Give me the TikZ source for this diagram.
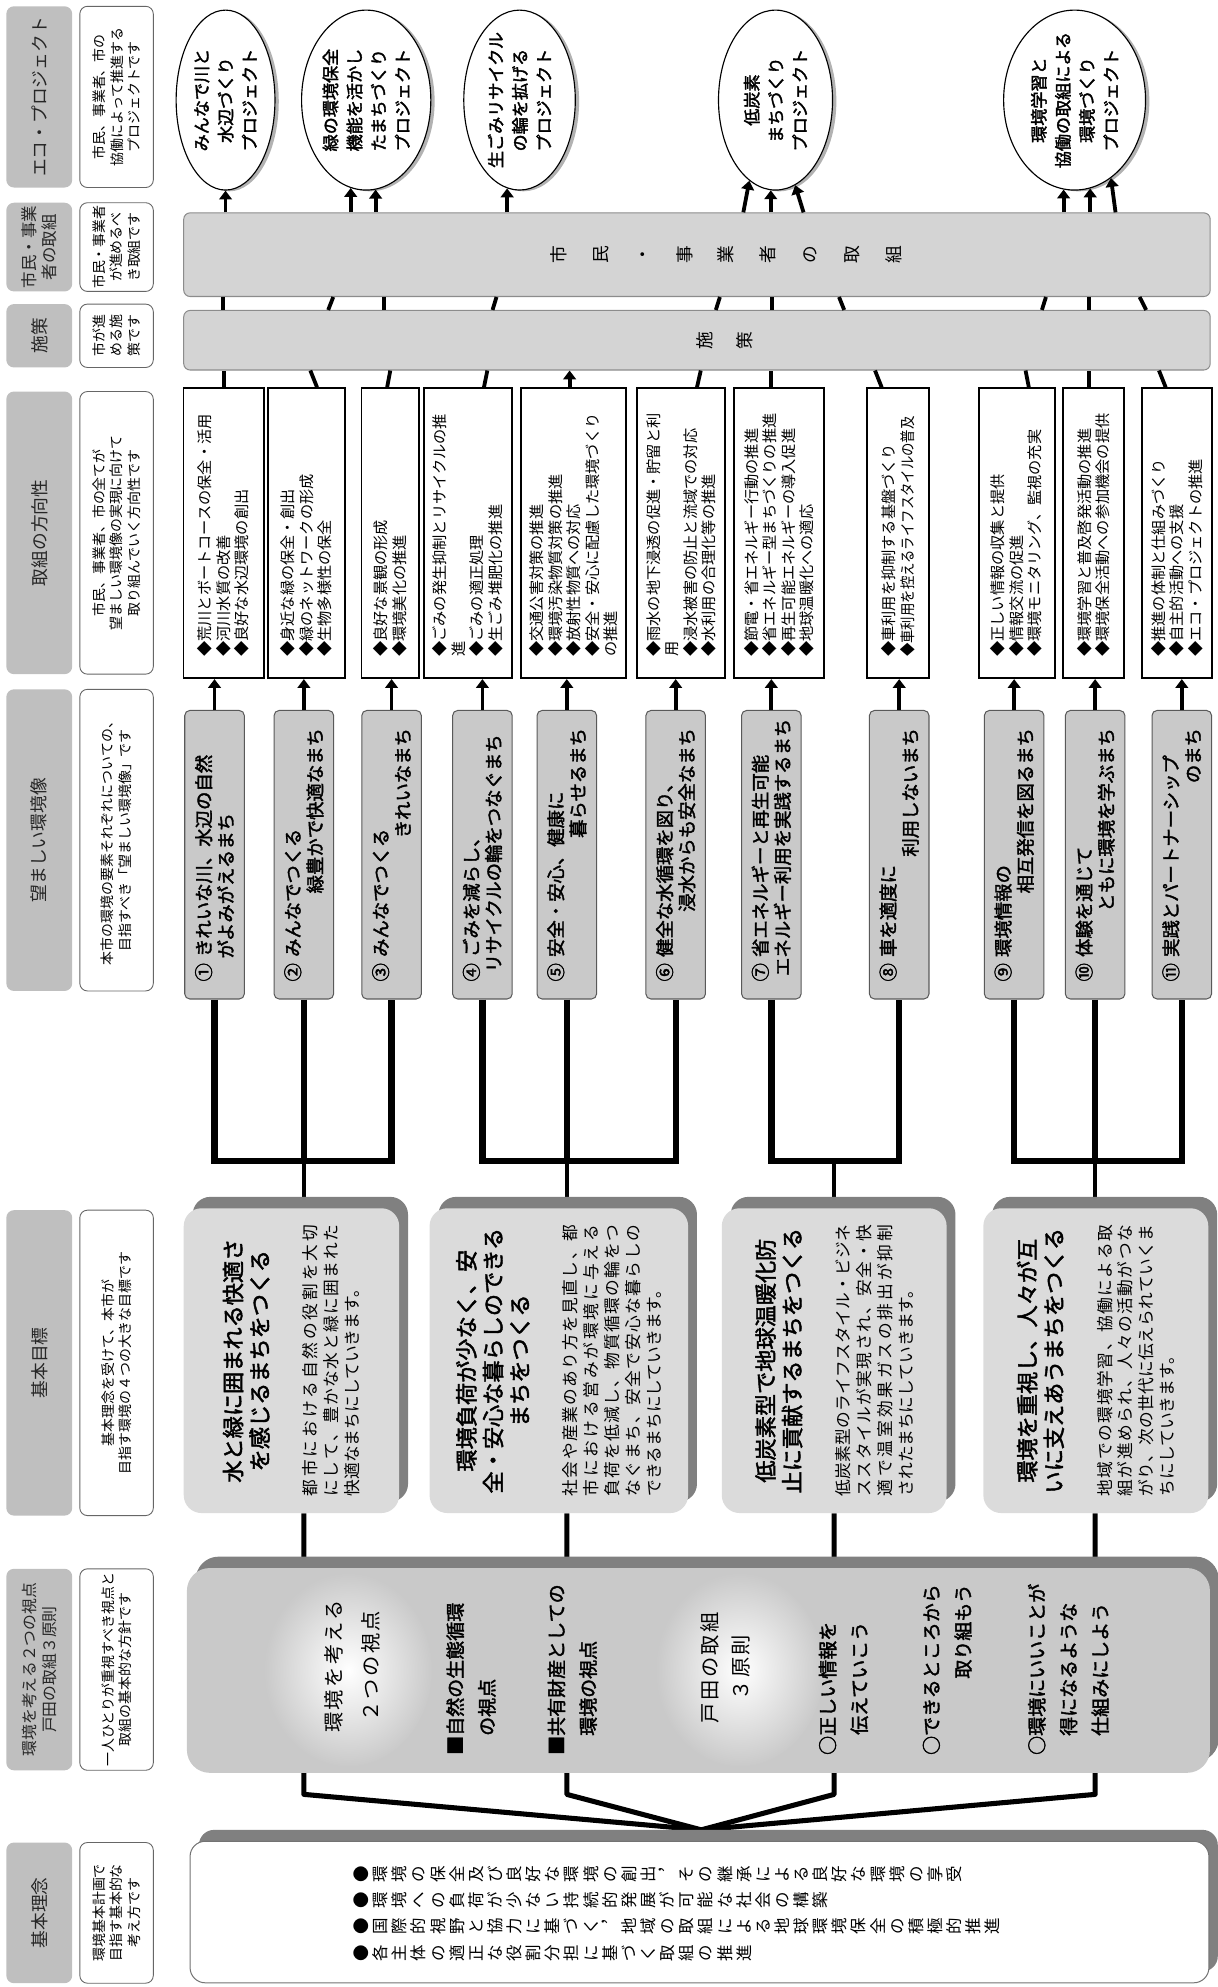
\documentclass[tikz,border=0pt]{standalone}
\usepackage{fontspec}
\usepackage{graphicx}
\setmainfont{Noto Sans CJK JP}[AutoFakeBold=2]
\usetikzlibrary{arrows.meta,shapes.geometric,backgrounds}
\setlength{\parindent}{0pt}
\definecolor{hdrgray}{gray}{0.75}
\definecolor{envgray}{gray}{0.79}
\definecolor{bargray}{gray}{0.83}
\definecolor{goalgray}{gray}{0.86}
\definecolor{shadowgray}{gray}{0.5}
\makeatletter
% tategaki: one character per line
\newcommand\tatestack[2]{\vbox{\baselineskip=#1\lineskip=0pt\lineskiplimit=-\maxdimen
  \@tfor\tate@c:=#2\do{\hbox to 1em{\hss\tate@c\hss}}}}
% justified line
\newcommand\jline[1]{\leavevmode\hbox to \hsize{\@tfor\jl@c:=#1\do{\jl@c\hfil}\unskip}}
\makeatother
\newcommand\goaltitle[1]{{\centering\bfseries\fontsize{17.5}{21}\selectfont #1\par}\vspace{22pt}}
\newcommand\goalbody[1]{{\fontsize{13.2}{16.5}\selectfont #1\par}}
\newcommand\narrowtext[1]{\scalebox{0.88}[1]{#1}}

\begin{document}
\begin{tikzpicture}[x=1pt, y=1pt, rotate=90, transform shape,
    arrow/.style={-{Triangle[length=7pt,width=10pt]}, line width=3pt},
    link/.style={line width=3pt},
    bracket/.style={line width=5pt},
    stem/.style={line width=3.5pt},
    trunk/.style={line width=4pt, line join=round},
    shadowed/.style={preaction={draw=none, fill=shadowgray, transform canvas={shift={(7pt,9pt)}}}},
    hdr/.style={fill=hdrgray, rounded corners=6pt, minimum height=52pt, inner sep=1pt,
                align=center, text=black!85, font=\fontsize{14}{17}\selectfont},
    hdrnote/.style={draw=black!60, line width=0.7pt, fill=white, rounded corners=6pt,
                minimum height=58pt, inner sep=1pt, align=center, font=\fontsize{11}{14}\selectfont},
    bar/.style={draw=black!45, line width=0.8pt, fill=bargray, rounded corners=5pt, minimum height=810pt},
    bartext/.style={inner sep=0pt, text=black, font=\fontsize{14}{14}\selectfont},
    eco/.style={ellipse, draw, line width=0.9pt, fill=white, minimum width=142pt, inner sep=0pt,
                preaction={draw=none, fill=gray!60, transform canvas={shift={(3pt,-1pt)}}}},
    ecotext/.style={align=center, inner sep=0pt, font=\bfseries\fontsize{13.5}{19}\selectfont},
    dirbox/.style={draw, line width=1.4pt, fill=white, minimum width=228.8pt, text width=195pt,
                align=left, inner sep=2pt, font=\fontsize{12}{14.6}\selectfont},
    envbox/.style={draw=black!65, line width=0.8pt, fill=envgray, rounded corners=4pt,
                minimum width=227.7pt, minimum height=47pt, text width=200pt, align=left,
                inner sep=2pt, font=\bfseries\fontsize{14.5}{17.5}\selectfont},
    goal/.style={fill=goalgray, rounded corners=14pt, minimum width=240.5pt, text width=214pt,
                align=left, inner sep=0pt, shadowed},
    viewbox/.style={fill=envgray, rounded corners=18pt, shadowed},
    viewtitle/.style={align=center, inner sep=0pt, font=\fontsize{16}{29}\selectfont\addfontfeature{LetterSpace=12}},
    viewitem/.style={anchor=north west, align=left, inner sep=0pt, font=\bfseries\fontsize{15}{25}\selectfont},
    rinenbox/.style={draw=black!55, line width=0.8pt, fill=white, rounded corners=12pt, shadowed},
    rinencol/.style={anchor=north, inner sep=0pt, font=\fontsize{13}{15}\selectfont}
  ]
  \useasboundingbox (0,0) rectangle (1568,961);

  \node[hdr, minimum width=111] (hrinen) at (58.5,930) {基本理念};
  \node[hdrnote, minimum width=111] (nrinen) at (58.5,869) {環境基本計画で\\目指す基本的な\\考え方です};
  \node[hdr, minimum width=159, font=\fontsize{12.5}{16}\selectfont] (hshiten) at (250.5,930) {環境を考える２つの視点\\戸田の取組３原則};
  \node[hdrnote, minimum width=159] (nshiten) at (250.5,869) {一人ひとりが重視すべき視点と\\取組の基本的な方針です};
  \node[hdr, minimum width=241] (hgoal) at (492.5,930) {基本目標};
  \node[hdrnote, minimum width=241] (ngoal) at (492.5,869) {基本理念を受けて、本市が\\目指す環境の４つの大きな目標です};
  \node[hdr, minimum width=238] (hvision) at (905,930) {望ましい環境像};
  \node[hdrnote, minimum width=238] (nvision) at (905,869) {本市の環境の要素それぞれについての、\\目指すべき「望ましい環境像」です};
  \node[hdr, minimum width=223] (hdir) at (1147.5,930) {取組の方向性};
  \node[hdrnote, minimum width=223] (ndir) at (1147.5,869) {市民、事業者、市の全てが\\望ましい環境像の実現に向けて\\取り組んでいく方向性です};
  \node[hdr, minimum width=50] (hshisaku) at (1303,930) {施策};
  \node[hdrnote, minimum width=50] (nshisaku) at (1303,869) {市が進\\める施\\策です};
  \node[hdr, minimum width=70, font=\fontsize{13}{16}\selectfont] (hshimin) at (1373,930) {市民・事業\\者の取組};
  \node[hdrnote, minimum width=70] (nshimin) at (1373,869) {市民・事業者\\が進めるべ\\き取組です};
  \node[hdr, minimum width=143] (heco) at (1491.5,930) {エコ・プロジェクト};
  \node[hdrnote, minimum width=143] (neco) at (1491.5,869) {市民、事業者、市の\\協働によって推進する\\プロジェクトです};

  \node[eco, minimum height=78] (e1) at (1489,783) {};
  \node[ecotext] (e1t) at (e1) {みんなで川と\\水辺づくり\\プロジェクト};
  \node[eco, minimum height=102] (e2) at (1489,672) {};
  \node[ecotext] (e2t) at (e2) {緑の環境保全\\機能を活かし\\たまちづくり\\プロジェクト};
  \node[eco, minimum height=88] (e3) at (1489,551) {};
  \node[ecotext] (e3t) at (e3) {生ごみリサイクル\\の輪を拡げる\\プロジェクト};
  \node[eco, minimum height=90] (e4) at (1489,349) {};
  \node[ecotext] (e4t) at (e4) {低炭素\\まちづくり\\プロジェクト};
  \node[eco, minimum height=112] (e5) at (1489,113) {};
  \node[ecotext] (e5t) at (e5) {環境学習と\\協働の取組による\\環境づくり\\プロジェクト};

  \node[bar, minimum width=66] (shimin) at (1367,411) {};
  \node[bartext] (shimintxt) at (1367,388) {\tatestack{33pt}{市民・事業者の取組}};
  \node[bar, minimum width=47] (shisaku) at (1299.5,411) {};
  \node[bartext] (shisakutxt) at (1299.5,389) {\tatestack{31.7pt}{施策}};

  \node[dirbox, minimum height=63.4] (dir1) at (1147.2,784.5) {◆荒川とボートコースの保全・活用\\◆河川水質の改善\\◆良好な水辺環境の創出};
  \node[dirbox, minimum height=60.7] (dir2) at (1147.2,719.15) {◆身近な緑の保全・創出\\◆緑のネットワークの形成\\◆生物多様性の保全};
  \node[dirbox, minimum height=45.5] (dir3) at (1147.2,652.95) {◆良好な景観の形成\\◆環境美化の推進};
  \node[dirbox, minimum height=69.4] (dir4) at (1147.2,591.8) {◆ごみの発生抑制とリサイクルの推\\進\\◆ごみの適正処理\\◆生ごみ堆肥化の推進};
  \node[dirbox, minimum height=82.6] (dir5) at (1147.2,508.3) {◆交通公害対策の推進\\◆環境汚染物質対策の推進\\◆放射性物質への対応\\◆安全・安心に配慮した環境づくり\\の推進};
  \node[dirbox, minimum height=69.9] (dir6) at (1147.2,423.55) {◆雨水の地下浸透の促進・貯留と利\\用\\◆浸水被害の防止と流域での対応\\◆水利用の合理化等の推進};
  \node[dirbox, minimum height=71.5] (dir7) at (1147.2,346.25) {◆節電・省エネルギー行動の推進\\◆省エネルギー型まちづくりの推進\\◆再生可能エネルギーの導入促進\\◆地球温暖化への適応};
  \node[dirbox, minimum height=48.8] (dir8) at (1147.2,252.3) {◆車利用を抑制する基盤づくり\\\narrowtext{◆車利用を控えるライフスタイルの普及}};
  \node[dirbox, minimum height=60] (dir9) at (1147.2,158.7) {◆正しい情報の収集と提供\\◆情報交流の促進\\◆環境モニタリング、監視の充実};
  \node[dirbox, minimum height=48] (dir10) at (1147.2,98.1) {◆環境学習と普及啓発活動の推進\\◆環境保全活動への参加機会の提供};
  \node[dirbox, minimum height=55.2] (dir11) at (1147.2,32.4) {◆推進の体制と仕組みづくり\\◆自主的活動への支援\\◆エコ・プロジェクトの推進};

  \node[envbox] (env1) at (893.5,791.7) {① きれいな川、水辺の自然\\\hspace*{1.25em}がよみがえるまち};
  \node[envbox] (env2) at (893.5,721.2) {② みんなでつくる\\\mbox{}\hfill 緑豊かで快適なまち};
  \node[envbox] (env3) at (893.5,652) {③ みんなでつくる\\\mbox{}\hfill きれいなまち};
  \node[envbox] (env4) at (893.5,580.3) {④ ごみを減らし、\\\hspace*{0.5em}リサイクルの輪をつなぐまち};
  \node[envbox] (env5) at (893.5,513.7) {⑤ 安全・安心、健康に\\\mbox{}\hfill 暮らせるまち};
  \node[envbox] (env6) at (893.5,427.8) {⑥ 健全な水循環を図り、\\\mbox{}\hfill 浸水からも安全なまち};
  \node[envbox] (env7) at (893.5,352.3) {⑦ 省エネルギーと再生可能\\\hspace*{0.3em}エネルギー利用を実践するまち};
  \node[envbox] (env8) at (893.5,251.4) {⑧ 車を適度に\\\mbox{}\hfill 利用しないまち};
  \node[envbox] (env9) at (893.5,160.7) {⑨ 環境情報の\\\mbox{}\hfill 相互発信を図るまち};
  \node[envbox] (env10) at (893.5,96.8) {⑩ 体験を通じて\\\mbox{}\hfill ともに環境を学ぶまち};
  \node[envbox] (env11) at (893.5,28.4) {⑪ 実践とパートナーシップ\\\mbox{}\hfill のまち};

  \node[goal, minimum height=170] (g1) at (494.25,731) {\goaltitle{水と緑に囲まれる快適さ\\を感じるまちをつくる}\goalbody{\jline{都市における自然の役割を大切}\\\jline{にして、豊かな水と緑に囲まれた}\\快適なまちにしていきます。}};
  \node[goal, minimum height=204] (g2) at (494.25,520) {\goaltitle{環境負荷が少なく、安\\全・安心な暮らしのできる\\まちをつくる}\goalbody{\jline{社会や産業のあり方を見直し、都}\\\jline{市における営みが環境に与える}\\\jline{負荷を低減し、物質循環の輪をつ}\\\jline{なぐまち、安全で安心な暮らしの}\\できるまちにしていきます。}};
  \node[goal, minimum height=177.4] (g3) at (494.25,302.7) {\goaltitle{低炭素型で地球温暖化防\\止に貢献するまちをつくる}\goalbody{\jline{低炭素型のライフスタイル・ビジネ}\\\jline{ススタイルが実現され、安全・快}\\\jline{適で温室効果ガスの排出が抑制}\\されたまちにしていきます。}};
  \node[goal, minimum height=177.5] (g4) at (494.25,96.25) {\goaltitle{環境を重視し、人々が互\\いに支えあうまちをつくる}\goalbody{\jline{地域での環境学習、協働による取}\\\jline{組が進められ、人々の活動がつな}\\\jline{がり、次の世代に伝えられていくま}\\ちにしていきます。}};

  \node[viewbox, minimum width=161.6, minimum height=807.3] (shiten) at (249.8,409.85) {};
  \shade[inner color=white, outer color=envgray] (250,686) ellipse [x radius=76, y radius=66];
  \shade[inner color=white, outer color=envgray] (250,377) ellipse [x radius=76, y radius=66];
  \node[viewtitle] (view1) at (253,683) {環境を考える\\２つの視点};
  \node[viewtitle, font=\fontsize{16}{24}\selectfont\addfontfeature{LetterSpace=12}] (view2) at (252,388.6) {戸田の取組\\３原則};
  \node[viewitem] (nature) at (183,609) {■自然の生態循環\\\phantom{■}の視点};
  \node[viewitem] (common) at (183,529) {■共有財産としての\\\phantom{■}環境の視点};
  \node[viewitem, align=right] (rule1) at (183,315) {○正しい情報を\\伝えていこう};
  \node[viewitem, align=right] (rule2) at (183,233) {○できるところから\\取り組もう};
  \node[viewitem] (rule3) at (183,150) {○環境にいいことが\\\phantom{○}得になるような\\\phantom{○}仕組みにしよう};

  \node[rinenbox, minimum width=111.7, minimum height=804] (rinen) at (59.15,409) {};
  \node[rinencol] (rinen1) at (89,682) {\tatestack{15.1pt}{●環境の保全及び良好な環境の創出︐その継承による良好な環境の享受}};
  \node[rinencol] (rinen2) at (68.5,682) {\tatestack{15.1pt}{●環境への負荷が少ない持続的発展が可能な社会の構築}};
  \node[rinencol] (rinen3) at (48,682) {\tatestack{15.1pt}{●国際的視野と協力に基づく︐地域の取組による地球環境保全の積極的推進}};
  \node[rinencol] (rinen4) at (26.5,682) {\tatestack{15.1pt}{●各主体の適正な役割分担に基づく取組の推進}};

  \coordinate (brk) at (652,0);
  \coordinate (bend) at (152,0);
  \coordinate (apex) at (124,407.6);

  \draw[arrow] (env1.east) -- (env1.east -| dir1.west);
  \draw[arrow] (env2.east) -- (env2.east -| dir2.west);
  \draw[arrow] (env3.east) -- (env3.east -| dir3.west);
  \draw[arrow] (env4.east) -- (env4.east -| dir4.west);
  \draw[arrow] (env5.east) -- (env5.east -| dir5.west);
  \draw[arrow] (env6.east) -- (env6.east -| dir6.west);
  \draw[arrow] (env7.east) -- (env7.east -| dir7.west);
  \draw[arrow] (env8.east) -- (env8.east -| dir8.west);
  \draw[arrow] (env9.east) -- (env9.east -| dir9.west);
  \draw[arrow] (env10.east) -- (env10.east -| dir10.west);
  \draw[arrow] (env11.east) -- (env11.east -| dir11.west);

  \draw[link] (dir1.east) -- (dir1.east -| shisaku.west);
  \draw[link] (dir2.east |- 0,710.8) -- (shisaku.west |- 0,716.1);
  \draw[link] (dir3.east |- 0,655.5) -- (shisaku.west |- 0,653);
  \draw[link] (dir4.east |- 0,579.1) -- (shisaku.west |- 0,576.4);
  \draw[arrow] (dir5.east |- 0,511.5) -- (shisaku.west |- 0,511.5);
  \draw[link] (dir6.east |- 0,411) -- (shisaku.west |- 0,408);
  \draw[link] (dir7.east |- 0,352.3) -- (shisaku.west |- 0,352.3);
  \draw[link] (dir8.east |- 0,265.2) -- (shisaku.west |- 0,270.5);
  \draw[link] (dir9.east |- 0,149.1) -- (shisaku.west |- 0,151.7);
  \draw[link] (dir10.east |- 0,101.8) -- (shisaku.west |- 0,101.8);
  \draw[link] (dir11.east |- 0,41.1) -- (shisaku.west |- 0,46.4);

  \draw[link] (shisaku.east |- 0,784.7) -- (shimin.west |- 0,784.7);
  \draw[link] (shisaku.east |- 0,702) -- (shimin.west |- 0,698);
  \draw[link] (shisaku.east |- 0,658.1) -- (shimin.west |- 0,658.1);
  \draw[link] (shisaku.east |- 0,572.3) -- (shimin.west |- 0,569.2);
  \draw[link] (shisaku.east |- 0,396.1) -- (shimin.west |- 0,392.9);
  \draw[link] (shisaku.east |- 0,352.1) -- (shimin.west |- 0,352.1);
  \draw[link] (shisaku.east |- 0,294.8) -- (shimin.west |- 0,298.9);
  \draw[link] (shisaku.east |- 0,138.8) -- (shimin.west |- 0,135.6);
  \draw[link] (shisaku.east |- 0,101.6) -- (shimin.west |- 0,101.6);
  \draw[link] (shisaku.east |- 0,56.5) -- (shimin.west |- 0,61.7);

  \draw[arrow] (shimin.east |- e1.west) -- (e1.west);
  \draw[arrow] (shimin.east |- e2.170) -- (e2.170);
  \draw[arrow] (shimin.east |- e2.186) -- (e2.186);
  \draw[arrow] (shimin.east |- e3.172) -- (e3.172);
  \draw[arrow] (shimin.east |- 0,374.4) -- (e4.162);
  \draw[arrow] (shimin.east |- e4.177) -- (e4.177);
  \draw[arrow] (shimin.east |- 0,326.9) -- (e4.193);
  \draw[arrow] (shimin.east |- e5.173) -- (e5.173);
  \draw[arrow] (shimin.east |- e5.190) -- (e5.190);
  \draw[arrow] (shimin.east |- 0,80.7) -- (e5.205);

  \begin{pgfonlayer}{background}
    \draw[bracket] (env1.west) -- (env1.west -| brk) -- (env3.west -| brk) -- (env3.west);
    \draw[bracket] (env2.west) -- (env2.west -| brk);
    \draw[stem] (env2.west -| brk) -- (env2.west -| g1.east);
    \draw[bracket] (env4.west) -- (env4.west -| brk) -- (env6.west -| brk) -- (env6.west);
    \draw[bracket] (env5.west) -- (env5.west -| brk);
    \draw[stem] (env5.west -| brk) -- (env5.west -| g2.east);
    \draw[bracket] (env7.west) -- (env7.west -| brk) -- (env8.west -| brk) -- (env8.west);
    \draw[stem] (brk |- g3.east) -- (g3.east);
    \draw[bracket] (env9.west) -- (env9.west -| brk) -- (env11.west -| brk) -- (env11.west);
    \draw[bracket] (env10.west) -- (env10.west -| brk);
    \draw[stem] (env10.west -| brk) -- (env10.west -| g4.east);
    \draw[trunk] (env2.west -| g1.west) -- (env2.west -| bend) -- (apex);
    \draw[trunk] (env5.west -| g2.west) -- (env5.west -| bend) -- (apex);
    \draw[trunk] (g3.west) -- (g3.west -| bend) -- (apex);
    \draw[trunk] (env10.west -| g4.west) -- (env10.west -| bend) -- (apex);
  \end{pgfonlayer}
\end{tikzpicture}
\end{document}
